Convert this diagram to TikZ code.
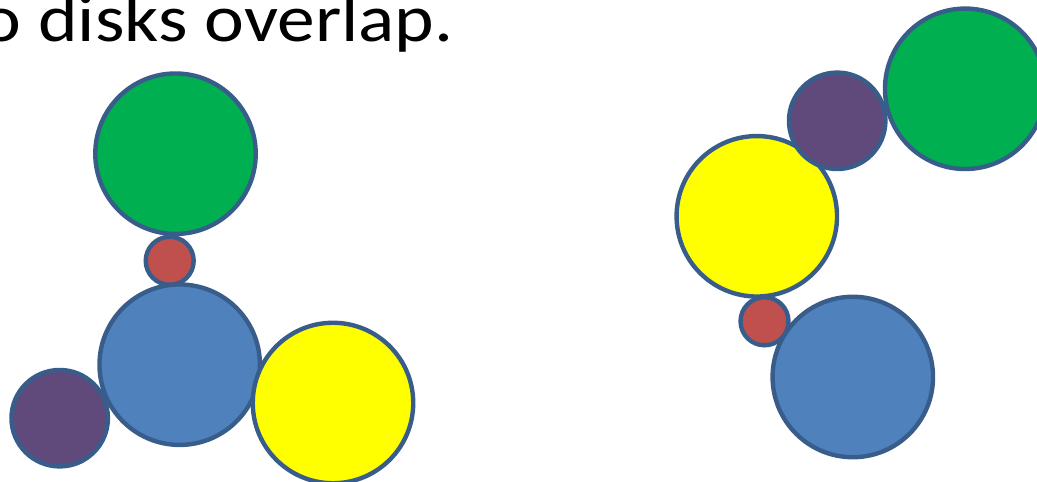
\documentclass[tikz,border=0pt]{standalone}
\usepackage{fontspec}
\setmainfont{Carlito}
\usepackage{xcolor}
\definecolor{diskedge}{RGB}{56,93,138}
\definecolor{diskgreen}{RGB}{0,176,80}
\definecolor{diskred}{RGB}{192,80,77}
\definecolor{diskblue}{RGB}{79,129,189}
\definecolor{diskpurple}{RGB}{96,74,123}
\definecolor{diskyellow}{RGB}{255,255,0}
\usepackage{tikz}
\usetikzlibrary{positioning}

\tikzset{
  disk/.style={circle, draw=diskedge, line width=2.5pt, inner sep=0pt},
  bigdisk/.style={disk, minimum size=3.21cm},
  middisk/.style={disk, minimum size=1.93cm},
  smalldisk/.style={disk, minimum size=0.96cm}
}

\begin{document}
\begin{tikzpicture}[x=0.02cm, y=-0.02cm]
  \useasboundingbox (0,0) rectangle (1037,482);

  % Caption (cut off on the left)
  \node[anchor=base east, inner sep=0pt, font=\fontsize{38}{45}\selectfont, xscale=1.13] (caption) at (454,42) {o disks overlap.};

  % --- Left arrangement ---
  \node[bigdisk, fill=diskgreen] (lgreen) at (175.5,153.7) {};
  \node[smalldisk, fill=diskred] (lred) at (169.7,260.8) {};
  \node[bigdisk, fill=diskblue] (lblue) at (179.7,364.7) {};
  \node[middisk, fill=diskpurple] (lpurple) at (59.7,418.2) {};
  \node[bigdisk, fill=diskyellow] (lyellow) at (333,403) {};

  % --- Right arrangement ---
  \node[bigdisk, fill=diskyellow] (ryellow) at (756.8,216.3) {};
  \node[middisk, fill=diskpurple] (rpurple) at (837.2,120.8) {};
  \node[bigdisk, fill=diskgreen] (rgreen) at (965.2,88.8) {};
  \node[bigdisk, fill=diskblue] (rblue) at (852.8,377) {};
  \node[smalldisk, fill=diskred] (rred) at (764.5,321.3) {};
\end{tikzpicture}
\end{document}
